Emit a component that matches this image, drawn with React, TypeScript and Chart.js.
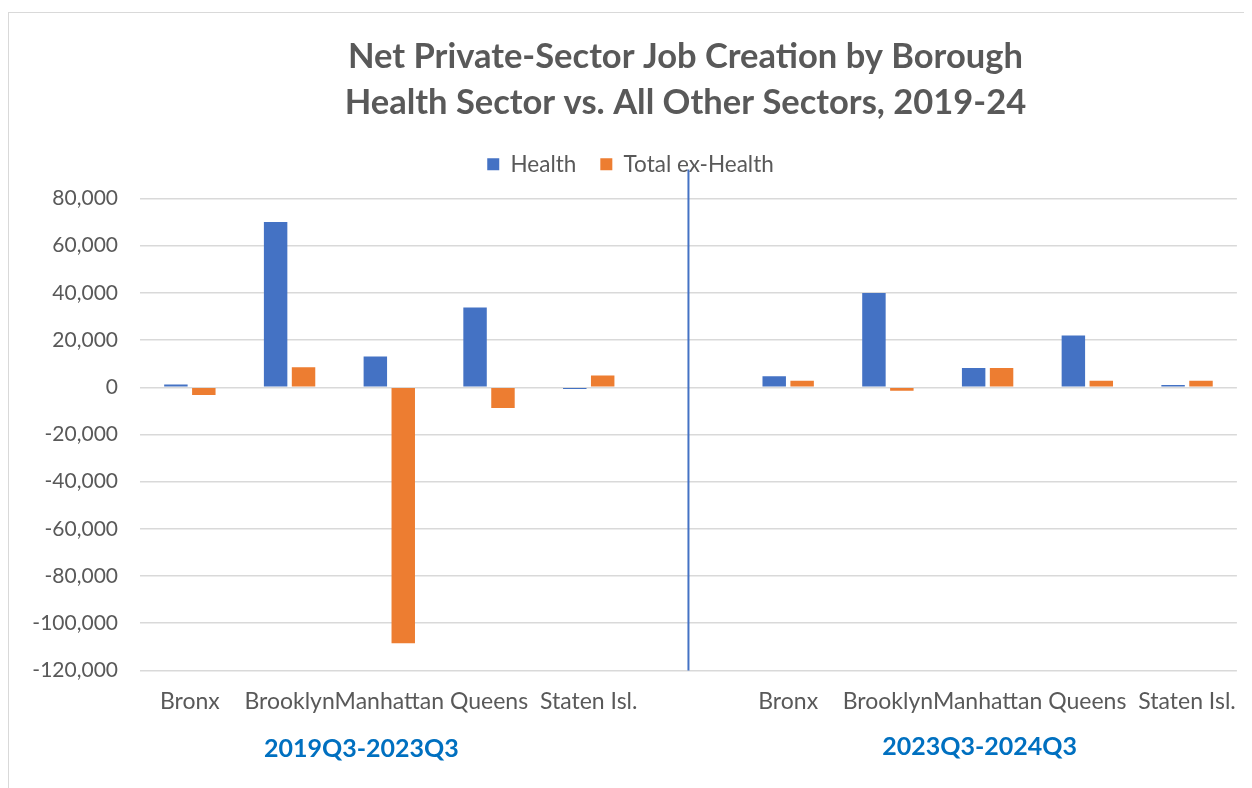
import React, { useEffect, useRef } from "react";
import { Chart, registerables } from "chart.js";

Chart.register(...registerables);

const categories = [
  "Bronx", "Brooklyn", "Manhattan", "Queens", "Staten Isl.",
  "",
  "Bronx", "Brooklyn", "Manhattan", "Queens", "Staten Isl.",
];
const healthValues = [1200, 70000, 13000, 33800, -700, null, 4700, 40000, 8200, 21900, 1000];
const exHealthValues = [-3300, 8500, -108500, -8800, 5000, null, 2800, -1500, 8200, 2800, 2800];
const periodLabels = ["2019Q3-2023Q3", "2023Q3-2024Q3"];
const titleLines = ["Net Private-Sector Job Creation by Borough", "Health Sector vs. All Other Sectors, 2019-24"];
const FONT = "Lato, 'Liberation Sans', sans-serif";

const overlayPlugin = {
  id: "overlay",
  afterDatasetsDraw(chart: any) {
    const { ctx, scales, chartArea } = chart;
    const x = scales.x;
    const sepX = x.getPixelForTick(5);
    ctx.save();
    ctx.strokeStyle = "#4472C4";
    ctx.lineWidth = 2;
    ctx.beginPath();
    ctx.moveTo(sepX, chartArea.top - 29);
    ctx.lineTo(sepX, chartArea.bottom);
    ctx.stroke();

    // title
    ctx.fillStyle = "#595959";
    ctx.font = "bold 34.5px " + FONT;
    ctx.textAlign = "center";
    ctx.textBaseline = "middle";
    const cx = (chartArea.left + chartArea.right) / 2 - 3;
    ctx.fillText(titleLines[0], cx, 44);
    ctx.fillText(titleLines[1], cx, 90);

    // period labels
    ctx.fillStyle = "#0070C0";
    ctx.font = "bold 25px " + FONT;
    const leftX = (x.getPixelForTick(0) + x.getPixelForTick(4)) / 2 - 28;
    const rightX = (x.getPixelForTick(6) + x.getPixelForTick(10)) / 2 - 8;
    ctx.fillText(periodLabels[0], leftX, chartArea.bottom + 79);
    ctx.fillText(periodLabels[1], rightX, chartArea.bottom + 77);
    ctx.restore();
  },
};

export default function App() {
  const ref = useRef<HTMLCanvasElement | null>(null);
  useEffect(() => {
    if (!ref.current) return;
    const chart = new Chart(ref.current, {
      type: "bar",
      data: {
        labels: categories,
        datasets: [
          { label: "Health", data: healthValues, backgroundColor: "#4472C4", categoryPercentage: 0.56, barPercentage: 0.84 },
          { label: "Total ex-Health", data: exHealthValues, backgroundColor: "#ED7D31", categoryPercentage: 0.56, barPercentage: 0.84 },
        ],
      },
      options: {
        animation: false,
        responsive: false,
        maintainAspectRatio: false,
        layout: { padding: { left: 12, right: 5, top: 116, bottom: 79 } },
        plugins: {
          title: { display: false },
          subtitle: {
            display: true,
            text: "",
            weight: 500,
            font: { size: 10, lineHeight: 1 },
            padding: { top: 0, bottom: 3 },
          },
          legend: {
            display: true,
            position: "top",
            labels: {
              color: "#595959",
              font: { family: FONT, size: 22.5 },
              boxWidth: 12,
              boxHeight: 12,
              padding: 24,
            },
          },
          tooltip: { enabled: false },
        },
        scales: {
          x: {
            grid: { display: false },
            border: { display: false },
            ticks: {
              color: "#595959",
              font: { family: FONT, size: 23 },
              autoSkip: false,
              maxRotation: 0,
              minRotation: 0,
              padding: 9,
            },
          },
          y: {
            min: -120000,
            max: 80000,
            grid: { color: "#d9d9d9", lineWidth: 1.5, drawTicks: false },
            border: { display: false },
            afterFit: (scale: any) => { scale.width = 119; },
            ticks: {
              stepSize: 20000,
              color: "#595959",
              font: { family: FONT, size: 21 },
              padding: 22,
              callback: (v: any) => Number(v).toLocaleString("en-US"),
            },
          },
        },
      },
      plugins: [overlayPlugin],
    });
    return () => chart.destroy();
  }, []);

  return (
    <div style={{ width: 1236, height: 790, border: "1px solid #d9d9d9", marginTop: 4, boxSizing: "content-box" }}>
      <canvas ref={ref} width={1236} height={790} style={{ display: "block" }} />
    </div>
  );
}
